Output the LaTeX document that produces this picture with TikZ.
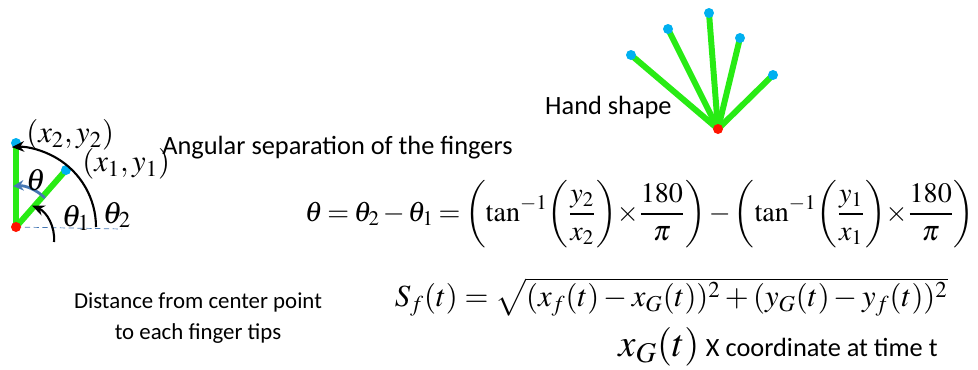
\documentclass[tikz,border=0pt]{standalone}
\usepackage{mathptmx}
\usepackage[no-math]{fontspec}
\setmainfont{Carlito}
\usetikzlibrary{arrows.meta,backgrounds}

\definecolor{fingergreen}{RGB}{40,235,20}
\definecolor{tipblue}{RGB}{0,176,240}
\definecolor{palmred}{RGB}{255,20,0}
\definecolor{anglesteel}{RGB}{70,120,180}

\begin{document}
\begin{tikzpicture}[
    x=0.02cm,  % one unit is one pixel of the sketch
    y=-0.02cm, % y counts downwards, like the sketch
    every node/.style={inner sep=0pt},
    palm/.style={circle, fill=palmred, minimum size=0.2cm},
    tip/.style={circle, fill=tipblue, minimum size=0.2cm},
    finger/.style={fingergreen, line width=3.4pt},
    label text/.style={font=\fontsize{15}{18}\selectfont},
    small text/.style={font=\fontsize{13}{15}\selectfont},
    formula/.style={font=\fontsize{17.5}{21}\selectfont},
    big formula/.style={font=\fontsize{16}{20}\selectfont},
    angle arc/.style={black, line width=1.2pt, -{Stealth[length=7pt,width=6pt]}}
    ]
\useasboundingbox (0,0) rectangle (978,369);

% --- Hand shape (top right) ---
\node[palm] (H-c) at (718,129) {};
\foreach \tx/\ty [count=\i] in {631/55, 668/29, 709/13, 740/38, 773/75} {
    \node[tip] (H-\i) at (\tx,\ty) {};
}
\begin{scope}[on background layer]
    \foreach \i in {1,...,5} {
        \draw[finger] (H-c.center) -- (H-\i.center);
    }
\end{scope}
\node[label text, anchor=east] (handlabel) at (672,107) {Hand shape};

% --- Two fingers and their angles (left) ---
\node[palm] (L-c) at (16,227) {};
\node[tip] (L-2) at (16,143) {};
\node[tip] (L-1) at (66,170) {};
\coordinate (L-base) at (122,229);
\begin{scope}[on background layer]
    \draw[finger] (L-c.center) -- (L-2.center);
    \draw[finger] (L-c.center) -- (L-1.center);
    \draw[anglesteel, densely dashed, thin] (L-c.center) -- (L-base);
\end{scope}

% angles: theta_2 from the base line, theta_1, and theta between the fingers
\draw[angle arc] (L-c.center) ++(80,0) arc[start angle=0, end angle=-93, radius=80];
\draw[angle arc] (54,242) arc[start angle=5, end angle=-67, radius=36];
\draw[anglesteel, line width=1.6pt, -{Stealth[length=6pt,width=6pt]}]
    (L-c.center) ++(-45:41) arc[start angle=-45, end angle=-94, radius=41];

\node[formula] (theta) at (36,180) {$\theta$};
\node[formula] (theta1) at (76,218) {$\theta_1$};
\node[formula] (theta2) at (117,215) {$\theta_2$};
\node[formula, anchor=west] (p2) at (26,135) {$(x_2, y_2)$};
\node[formula, anchor=west] (p1) at (82,164) {$(x_1, y_1)$};

% --- Formulas ---
\node[label text, anchor=west] (anglabel) at (162,148) {Angular separation of the fingers};
\node[big formula, anchor=east] (angformula) at (975,214) {$\medmuskip=2mu \thickmuskip=3mu
    \displaystyle \theta = \theta_2 - \theta_1 =
    \left(\tan^{-1}\!\left(\frac{y_2}{x_2}\right)\!\times\!\frac{180}{\pi}\right)-
    \left(\tan^{-1}\!\left(\frac{y_1}{x_1}\right)\!\times\!\frac{180}{\pi}\right)$};

\node[small text, align=center] (distlabel) at (198,318) {Distance from center point\\[3pt]to each finger tips};
\node[formula, anchor=east] (distformula) at (948,297) {$S_f(t) = \sqrt{(x_f(t) - x_G(t))^2 + (y_G(t) - y_f(t))^2}$};
\node[anchor=east] (xglabel) at (938,347) {\fontsize{22}{26}\selectfont\boldmath$x_G(t)$\,\fontsize{15}{18}\selectfont X coordinate at time t};

\end{tikzpicture}
\end{document}
